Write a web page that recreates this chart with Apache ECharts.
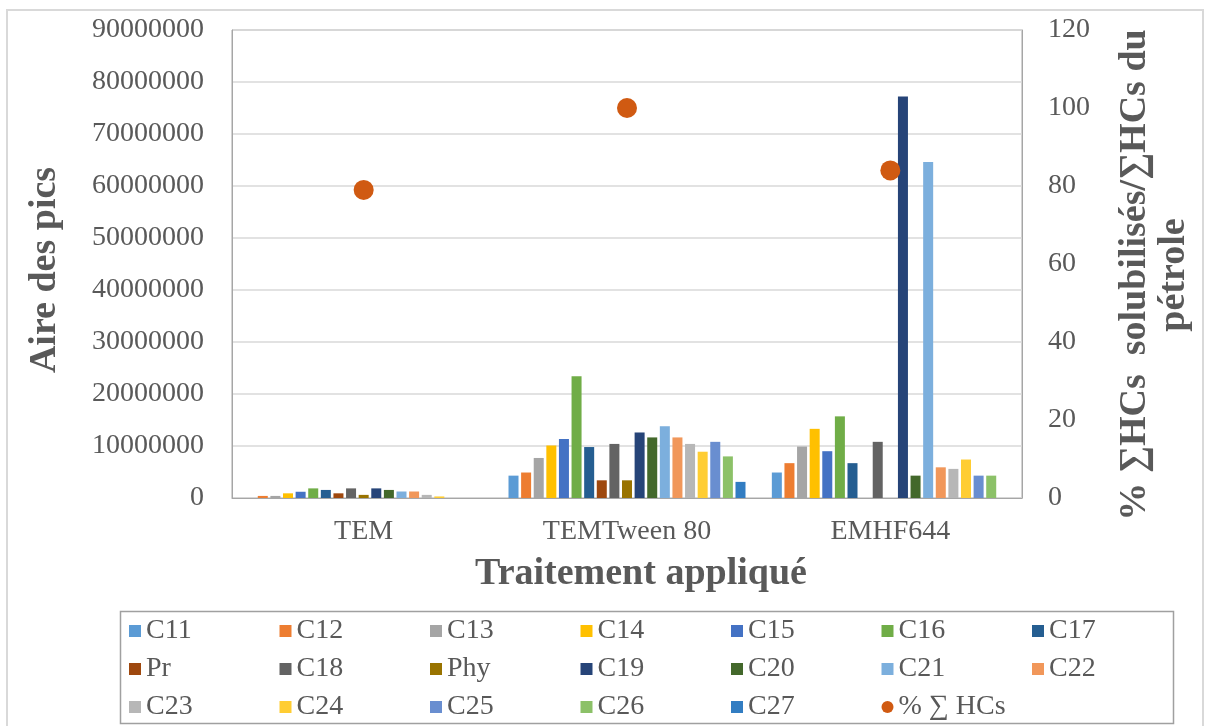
<!DOCTYPE html>
<html>
<head>
<meta charset="utf-8">
<script src="https://cdn.jsdelivr.net/npm/echarts@6/dist/echarts.min.js"></script>
<style>
html,body{margin:0;padding:0;background:#fff;}
#chart{width:1212px;height:726px;}
</style>
</head>
<body>
<div id="chart"></div>
<script>
// ---- data ----
const categories = ['TEM', 'TEMTween 80', 'EMHF644'];
const seriesNames = ['C11','C12','C13','C14','C15','C16','C17','Pr','C18','Phy','C19','C20','C21','C22','C23','C24','C25','C26','C27'];
const valuesTEM   = [0, 400000, 400000, 900000, 1200000, 1850000, 1550000, 900000, 1850000, 600000, 1850000, 1550000, 1250000, 1250000, 600000, 300000, 0, 0, 0];
const valuesTween = [4300000, 4900000, 7700000, 10100000, 11350000, 23400000, 9800000, 3400000, 10400000, 3400000, 12600000, 11650000, 13800000, 11650000, 10400000, 8900000, 10800000, 8000000, 3100000];
const valuesEMHF  = [4900000, 6700000, 9900000, 13300000, 9000000, 15700000, 6700000, 0, 10800000, 0, 77200000, 4300000, 64600000, 5900000, 5600000, 7400000, 4300000, 4300000, 0];
const pctName = '% \u2211 HCs';
const pctValues = [79, 100, 84];
const leftTicks = { min: 0, max: 90000000, interval: 10000000 };
const rightTicks = { min: 0, max: 120, interval: 20 };

// ---- styles ----
const colors = ['#5B9BD5','#ED7D31','#A5A5A5','#FFC000','#4472C4','#70AD47','#255E91','#9E480E','#636363','#997300','#264478','#43682B','#7CAFDD','#F1975A','#B7B7B7','#FFCD33','#698ED0','#8CC168','#327DC2'];
const dotColor = '#D05A12';
const FONT = "'Liberation Serif', 'Times New Roman', serif";
const TXT = '#595959';

const barSeries = seriesNames.map((n, i) => ({
  name: n,
  type: 'bar',
  yAxisIndex: 0,
  barGap: '26%',
  barCategoryGap: '10%',
  itemStyle: { color: colors[i] },
  data: [valuesTEM[i], valuesTween[i], valuesEMHF[i]]
}));

const scatterSeries = {
  name: pctName,
  type: 'scatter',
  yAxisIndex: 1,
  symbol: 'circle',
  symbolSize: 20,
  itemStyle: { color: dotColor, opacity: 1 },
  data: pctValues,
  z: 5
};

// legend: one small legend per entry, laid out on a 7-column grid
const allNames = seriesNames.concat([pctName]);
const legends = allNames.map((n, idx) => {
  const row = Math.floor(idx / 7), col = idx % 7;
  return {
    left: 129 + col * 150.5,
    top: 617 + row * 38,
    itemWidth: 12,
    itemHeight: 12,
    padding: 0,
    data: [{ name: n, icon: n === pctName ? 'circle' : 'rect' }],
    textStyle: { fontFamily: FONT, fontSize: 28, color: TXT }
  };
});

const chart = echarts.init(document.getElementById('chart'), null, { renderer: 'canvas' });
chart.setOption({
  backgroundColor: '#ffffff',
  animation: false,
  color: colors.concat([dotColor]),
  grid: { left: 232, right: 190, top: 30, bottom: 228, show: true, borderColor: '#A6A6A6', borderWidth: 1, containLabel: false },
  legend: legends,
  xAxis: {
    type: 'category',
    data: categories,
    axisTick: { show: false },
    axisLine: { show: true, lineStyle: { color: '#A6A6A6' } },
    axisLabel: { fontFamily: FONT, fontSize: 28, color: TXT, margin: 20 },
    splitLine: { show: false }
  },
  yAxis: [
    {
      type: 'value',
      min: leftTicks.min, max: leftTicks.max, interval: leftTicks.interval,
      axisLine: { show: true, lineStyle: { color: '#A6A6A6' } },
      axisTick: { show: false },
      axisLabel: { fontFamily: FONT, fontSize: 28, color: TXT, margin: 28, formatter: v => String(v) },
      splitLine: { show: true, lineStyle: { color: '#D9D9D9', width: 1.5 } }
    },
    {
      type: 'value',
      position: 'right',
      min: rightTicks.min, max: rightTicks.max, interval: rightTicks.interval,
      axisLine: { show: true, lineStyle: { color: '#A6A6A6' } },
      axisTick: { show: false },
      axisLabel: { fontFamily: FONT, fontSize: 28, color: TXT, margin: 26, formatter: v => String(v) },
      splitLine: { show: false }
    }
  ],
  graphic: [
    { type: 'rect', shape: { x: 7, y: 10, width: 1196, height: 730 }, style: { fill: null, stroke: '#D9D9D9', lineWidth: 2 }, silent: true, z: -1 },
    { type: 'rect', shape: { x: 120.5, y: 611.5, width: 1053, height: 112 }, style: { fill: null, stroke: '#A0A0A0', lineWidth: 1.5 }, silent: true },
    { type: 'text', x: 45, y: 270, rotation: Math.PI / 2,
      style: { text: 'Aire des pics', font: 'bold 38px ' + FONT, fill: TXT, textAlign: 'center', textVerticalAlign: 'middle' } },
    { type: 'text', x: 641, y: 574,
      style: { text: 'Traitement appliqué', font: 'bold 38px ' + FONT, fill: TXT, textAlign: 'center', textVerticalAlign: 'middle' } },
    { type: 'text', x: 1155, y: 275, rotation: Math.PI / 2,
      style: { text: '% \u2211HCs  solubilisés/\u2211HCs du\npétrole', font: 'bold 38px ' + FONT, lineHeight: 39, fill: TXT, textAlign: 'center', textVerticalAlign: 'middle' } }
  ],
  series: barSeries.concat([scatterSeries])
});
</script>
</body>
</html>
